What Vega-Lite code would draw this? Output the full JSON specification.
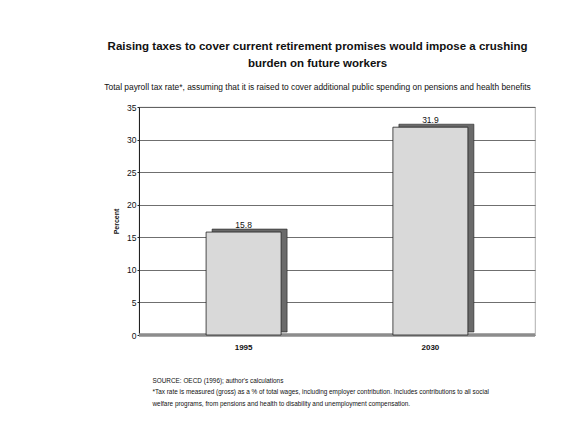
{
  "$schema": "https://vega.github.io/schema/vega-lite/v6.json",
  "autosize": {"type": "none"},
  "width": 396,
  "height": 228,
  "padding": {"left": 139, "top": 107, "right": 44, "bottom": 101},
  "background": "white",
  "config": {
    "font": "Liberation Sans",
    "view": {"stroke": "#9a9a9a", "strokeWidth": 0.8}
  },
  "title": {
    "text": ["Raising taxes to cover current retirement promises would impose a crushing", "burden on future workers"],
    "subtitle": "Total payroll tax rate*, assuming that it is raised to cover additional public spending on pensions and health benefits",
    "anchor": "middle",
    "frame": "bounds",
    "dx": -7,
    "font": "Liberation Sans",
    "fontSize": 11.5,
    "fontWeight": "bold",
    "color": "#111",
    "lineHeight": 17,
    "subtitleFont": "Liberation Sans",
    "subtitleFontSize": 8.4,
    "subtitleColor": "#111",
    "subtitlePadding": 13,
    "offset": 12
  },
  "data": {
    "values": [
      {"year": "1995", "rate": 15.8},
      {"year": "2030", "rate": 31.9}
    ]
  },
  "encoding": {
    "x": {
      "field": "year",
      "type": "nominal",
      "scale": {"paddingInner": 0.2, "paddingOuter": 0.16},
      "axis": {
        "labelAngle": 0,
        "labelFontSize": 8,
        "labelFontWeight": "bold",
        "labelColor": "#111",
        "labelPadding": 8,
        "domain": false,
        "ticks": false,
        "title": ["SOURCE: OECD (1996); author's calculations", "*Tax rate is measured (gross) as a % of total wages, including employer contribution.  Includes contributions to all social", "welfare programs, from pensions and health to disability and unemployment compensation."],
        "titleFontSize": 6.4,
        "titleFontWeight": "normal",
        "titleColor": "#111",
        "titleAlign": "left",
        "titleAnchor": "start",
        "titleBaseline": "top",
        "titleX": 13,
        "titleY": 42,
        "titleLineHeight": 11.5
      }
    },
    "y": {
      "field": "rate",
      "type": "quantitative",
      "scale": {"domain": [0, 35], "nice": false},
      "axis": {
        "values": [0, 5, 10, 15, 20, 25, 30, 35],
        "title": "Percent",
        "titleFontSize": 7,
        "titleFontWeight": "bold",
        "titleColor": "#111",
        "titlePadding": 7,
        "labelFontSize": 8.5,
        "labelColor": "#111",
        "labelPadding": 1,
        "domainColor": "#222",
        "tickColor": "#222",
        "tickSize": 2,
        "gridColor": "#4a4a4a",
        "gridWidth": 0.8
      }
    }
  },
  "layer": [
    {
      "mark": {"type": "rule", "color": "#8c8c8c", "strokeWidth": 3},
      "encoding": {"y": {"datum": 0}, "x": {"value": 0}, "x2": {"value": 396}}
    },
    {
      "mark": {"type": "bar", "size": 75, "xOffset": 6, "yOffset": -3, "color": "#6a6a6a", "stroke": "#222", "strokeWidth": 0.6}
    },
    {
      "mark": {"type": "bar", "size": 75, "color": "#d9d9d9", "stroke": "#222", "strokeWidth": 0.8}
    },
    {
      "mark": {"type": "text", "dy": -7, "fontSize": 8.5, "color": "#111"},
      "encoding": {"text": {"field": "rate", "type": "quantitative", "format": ".1f"}}
    }
  ]
}
